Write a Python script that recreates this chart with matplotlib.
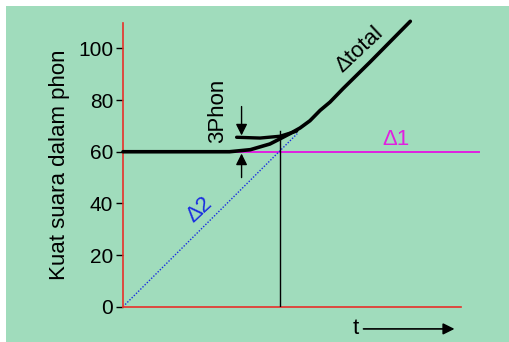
import matplotlib as mpl
mpl.use("Agg")
import matplotlib.pyplot as plt
from matplotlib.patches import Rectangle

mpl.rcParams.update({"font.family": ["Liberation Sans", "DejaVu Sans"]})

BG = "#a0dcbc"

# data (x in same units as y, t axis unlabeled)
total_x = [0, 20, 41, 49, 56.5, 60.4, 64.2, 68.1, 71.9, 75.8, 79.6, 84.6, 95, 110.5]
total_y = [60, 60, 60, 60.8, 63, 65, 67, 69.2, 72, 76, 79.2, 84.4, 94.7, 110.5]
upper_x = [43.7, 52.7, 60.4, 66.8]
upper_y = [65.6, 65.3, 66, 68]
d1_x = [0, 137]
d1_y = [60, 60]
d2_x = [0, 67]
d2_y = [0, 67]
vline_x = 60.4
vline_top = 68
yticks = [0, 20, 40, 60, 80, 100]

fig = plt.figure(figsize=(5.09, 3.42), dpi=100)
fig.patch.set_facecolor("white")
fig.patches.append(Rectangle((6 / 509, 0), 1, 1 - 6 / 342, transform=fig.transFigure,
                             facecolor=BG, edgecolor="none", zorder=-10))

ax = fig.add_axes([123 / 509, 35.3 / 342, 338 / 509, 284.1 / 342])
ax.set_facecolor(BG)
ax.set_xlim(0, 130)
ax.set_ylim(0, 110)
for s in ("top", "right"):
    ax.spines[s].set_visible(False)
for s in ("left", "bottom"):
    ax.spines[s].set_color("#e8302a")
    ax.spines[s].set_linewidth(1.2)
ax.set_xticks([])
ax.set_yticks(yticks)
ax.tick_params(axis="y", labelsize=15, length=5, width=1, color="black", pad=2)
ax.set_ylabel("Kuat suara dalam phon", fontsize=16, labelpad=6)

ax.plot(d1_x, d1_y, color="#e020e0", lw=1.4, clip_on=False, zorder=2)
ax.plot(d2_x, d2_y, color="#1a2ee0", lw=1.0, ls=(0, (1, 1.2)), zorder=2)
ax.plot([vline_x, vline_x], [0, vline_top], color="black", lw=1.0, zorder=3)
ax.plot(total_x, total_y, color="black", lw=2.6, solid_capstyle="round", clip_on=False, zorder=4)
ax.plot(upper_x, upper_y, color="black", lw=2.4, solid_capstyle="round", zorder=4)

# 3 phon arrows
ap = dict(arrowstyle="-|>", color="black", lw=1.0, mutation_scale=17, shrinkA=0, shrinkB=0)
ax.annotate("", xy=(45.6, 66.3), xytext=(45.6, 77.5), arrowprops=ap)
ax.annotate("", xy=(45.6, 59.3), xytext=(45.6, 50), arrowprops=ap)
ax.text(36.3, 76, "3Phon", rotation=90, fontsize=16, ha="center", va="center")

ax.text(91, 99.5, "\u0394total", rotation=43, fontsize=16, ha="center", va="center")
ax.text(105, 64.8, "\u03941", color="#e020e0", fontsize=16, ha="center", va="center")
ax.text(29.5, 37.5, "\u03942", color="#1a2ee0", rotation=43, fontsize=16, ha="center", va="center")

# t axis arrow under the plot
ax.text(89.6, -8.6, "t", fontsize=16, ha="center", va="center", clip_on=False)
ax.annotate("", xy=(127.5, -8.6), xytext=(92.5, -8.6), xycoords="data",
            arrowprops=dict(arrowstyle="-|>", color="black", lw=1.2, mutation_scale=17,
                            shrinkA=0, shrinkB=0), annotation_clip=False)

fig.savefig("out.png", dpi=100, facecolor=fig.get_facecolor())
